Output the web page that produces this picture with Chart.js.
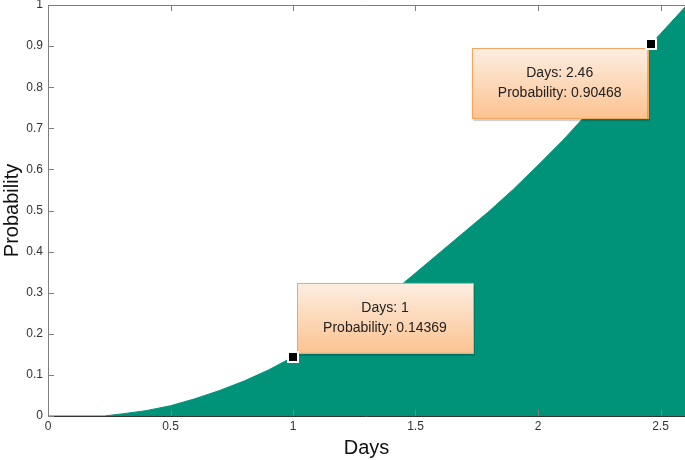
<!DOCTYPE html>
<html>
<head>
<meta charset="utf-8">
<script src="https://cdn.jsdelivr.net/npm/chart.js@4/dist/chart.umd.min.js"></script>
<style>
html, body { margin: 0; padding: 0; background: #fff; }
#wrap { width: 685px; height: 460px; }
</style>
</head>
<body>
<div id="wrap"><canvas id="c"></canvas></div>
<script>
// curve
var days = [0, 0.23, 0.3, 0.4, 0.5, 0.6, 0.7, 0.8, 0.9, 1.0, 1.1, 1.2, 1.3, 1.4, 1.5, 1.6, 1.7, 1.8, 1.9, 2.0, 2.1, 2.2, 2.3, 2.4, 2.46, 2.5, 2.6];
var prob = [0, 0, 0.005, 0.013, 0.025, 0.042, 0.062, 0.085, 0.112, 0.14369, 0.175, 0.212, 0.252, 0.298, 0.348, 0.398, 0.448, 0.498, 0.552, 0.61, 0.67, 0.735, 0.8, 0.865, 0.90468, 0.93, 0.995];
var xTicks = [0, 0.5, 1, 1.5, 2, 2.5];
var yTicks = [0, 0.1, 0.2, 0.3, 0.4, 0.5, 0.6, 0.7, 0.8, 0.9, 1];

// data tips
var tipX = [1, 2.46];
var tipY = [0.14369, 0.90468];
var tipText = [["Days: 1", "Probability: 0.14369"], ["Days: 2.46", "Probability: 0.90468"]];

var pts = [];
for (var i = 0; i < days.length; i++) pts.push({x: days[i], y: prob[i]});

var frame = {
  id: 'frame',
  afterDatasetsDraw: function(chart) {
    var ctx = chart.ctx, a = chart.chartArea;
    var xs = chart.scales.x, ys = chart.scales.y;
    ctx.save();
    ctx.strokeStyle = '#7f7f7f';
    ctx.lineWidth = 1;
    ctx.beginPath();
    ctx.moveTo(a.left + 0.5, a.bottom);
    ctx.lineTo(a.left + 0.5, a.top + 0.5);
    ctx.lineTo(a.right, a.top + 0.5);
    ctx.stroke();
    ctx.strokeStyle = '#333';
    ctx.beginPath();
    ctx.moveTo(a.left, a.bottom + 0.5);
    ctx.lineTo(a.right, a.bottom + 0.5);
    ctx.stroke();
    ctx.strokeStyle = '#7f7f7f';
    ctx.beginPath();
    for (var i = 0; i < xTicks.length; i++) {
      var px = Math.round(xs.getPixelForValue(xTicks[i])) + 0.5;
      ctx.moveTo(px, a.top);
      ctx.lineTo(px, a.top + 6);
      ctx.moveTo(px, a.bottom);
      ctx.lineTo(px, a.bottom - 6);
    }
    for (var j = 0; j < yTicks.length; j++) {
      var py = Math.round(ys.getPixelForValue(yTicks[j])) + 0.5;
      ctx.moveTo(a.left, py);
      ctx.lineTo(a.left + 6, py);
    }
    ctx.stroke();

    // data tips
    for (var k = 0; k < tipX.length; k++) {
      var mx = xs.getPixelForValue(tipX[k]);
      var my = ys.getPixelForValue(tipY[k]);
      var w = 176, h = 70, bx, by;
      if (k == 0) { bx = mx + 4; by = my - 4 - h; }
      else { bx = mx - 3 - w; by = my + 4; }
      ctx.fillStyle = 'rgba(0,0,0,0.18)';
      ctx.fillRect(bx + 2, by + 3, w, h);
      var g = ctx.createLinearGradient(0, by, 0, by + h);
      g.addColorStop(0, '#fdeee2');
      g.addColorStop(1, '#fcc391');
      ctx.fillStyle = g;
      ctx.fillRect(bx, by, w, h);
      ctx.strokeStyle = '#f3a65f';
      ctx.strokeRect(Math.round(bx) + 0.5, Math.round(by) + 0.5, w, h);
      ctx.fillStyle = '#222';
      ctx.font = '14px "Liberation Sans", Arial, sans-serif';
      ctx.textAlign = 'center';
      ctx.textBaseline = 'middle';
      ctx.fillText(tipText[k][0], bx + w / 2, by + 25);
      ctx.fillText(tipText[k][1], bx + w / 2, by + 45);
      ctx.fillStyle = '#fff';
      ctx.fillRect(Math.round(mx) - 6, Math.round(my) - 6, 12, 12);
      ctx.fillStyle = '#000';
      ctx.fillRect(Math.round(mx) - 4, Math.round(my) - 4, 8, 8);
    }
    ctx.restore();
  }
};

new Chart(document.getElementById('c'), {
  type: 'line',
  data: {
    datasets: [{
      data: pts,
      fill: 'origin',
      backgroundColor: '#00937a',
      borderColor: '#00937a',
      borderWidth: 1,
      pointRadius: 0,
      tension: 0
    }]
  },
  options: {
    responsive: true,
    maintainAspectRatio: false,
    animation: false,
    layout: { padding: { top: 0, right: 0, left: 0, bottom: 0 } },
    plugins: { legend: { display: false }, tooltip: { enabled: false } },
    scales: {
      x: {
        type: 'linear',
        min: 0,
        max: 2.6,
        afterBuildTicks: function(s) { s.ticks = xTicks.map(function(v) { return {value: v}; }); },
        afterFit: function(s) { s.height = 44; },
        grid: { display: false, drawTicks: false },
        border: { display: false },
        ticks: {
          color: '#333', padding: 3, maxRotation: 0,
          font: { family: '"Liberation Sans", Arial, sans-serif', size: 12 },
          callback: function(v) { return String(v); }
        },
        title: {
          display: true, text: 'Days', color: '#111', padding: { top: 0, bottom: 0 },
          font: { family: '"Liberation Sans", Arial, sans-serif', size: 20 }
        }
      },
      y: {
        min: 0,
        max: 1,
        afterBuildTicks: function(s) { s.ticks = yTicks.map(function(v) { return {value: v}; }); },
        afterFit: function(s) { s.width = 48; s.paddingTop = 5; s.paddingBottom = 0; },
        grid: { display: false, drawTicks: false },
        border: { display: false },
        ticks: {
          color: '#333', padding: 5,
          font: { family: '"Liberation Sans", Arial, sans-serif', size: 12 },
          callback: function(v) { return String(v); }
        },
        title: {
          display: true, text: 'Probability', color: '#111', padding: { top: 0, bottom: 4 },
          font: { family: '"Liberation Sans", Arial, sans-serif', size: 20 }
        }
      }
    }
  },
  plugins: [frame]
});
</script>
</body>
</html>
